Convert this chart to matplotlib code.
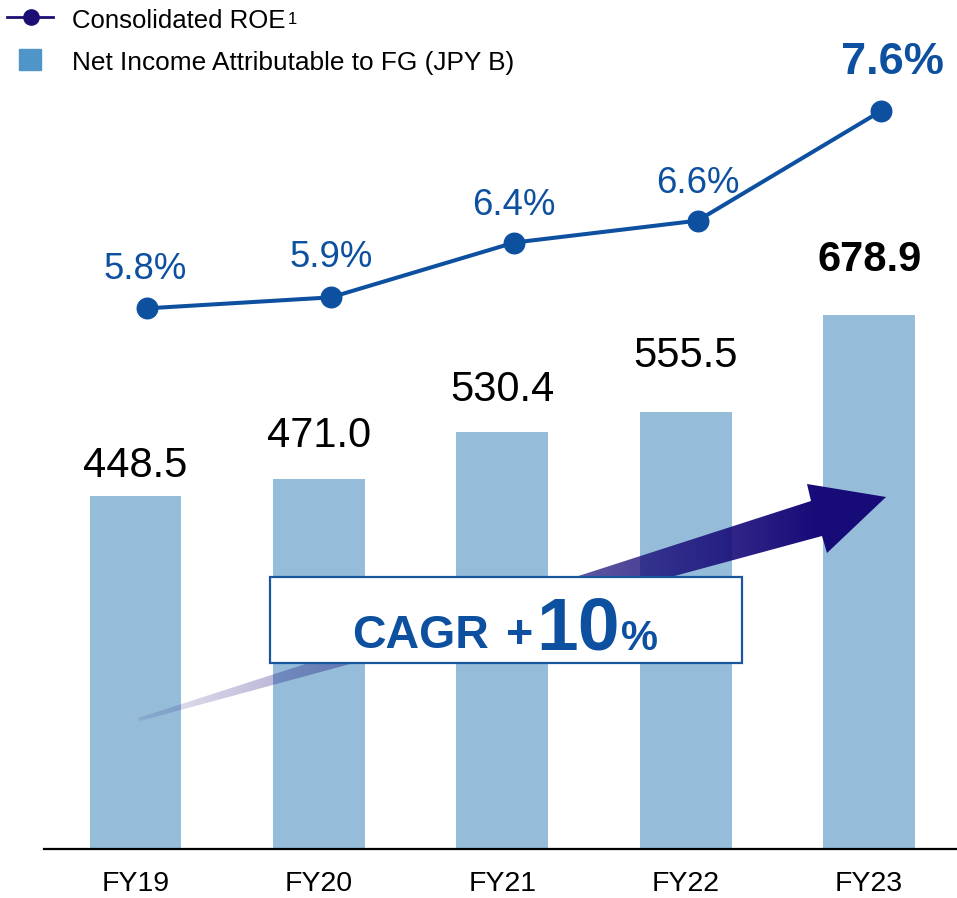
import numpy as np
import matplotlib
matplotlib.use("Agg")
import matplotlib.pyplot as plt
from matplotlib.patches import Polygon, Rectangle

plt.rcParams['font.family'] = ['Liberation Sans', 'DejaVu Sans']

years = ['FY19', 'FY20', 'FY21', 'FY22', 'FY23']
net_income = [448.5, 471.0, 530.4, 555.5, 678.9]
roe = [5.8, 5.9, 6.4, 6.6, 7.6]

BAR_COLOR = '#95bcd9'
LINE_COLOR = '#0d50a0'
NAVY = '#170b78'

W, H = 957, 898
fig = plt.figure(figsize=(W / 100, H / 100), dpi=100)
ax = fig.add_axes([44 / W, 49 / H, 913 / W, 849 / H])

x = np.arange(len(years))
ax.bar(x, net_income, width=0.5, color=BAR_COLOR)
ax.set_xlim(-0.499, 4.479)
ax.set_ylim(0, 849 * 1.2715)
ax.set_xticks(x, years)
ax.tick_params(axis='x', length=0, labelsize=20.5, pad=16)
ax.set_yticks([])
for s in ['top', 'left', 'right']:
    ax.spines[s].set_visible(False)
ax.spines['bottom'].set_linewidth(1.6)

# label gaps above bars (px)
bar_gap = [19, 32, 31, 45, 44]
for i, v in enumerate(net_income):
    last = i == len(net_income) - 1
    ax.annotate(f"{v:.1f}", (x[i], v), xytext=(0, bar_gap[i] * 0.72),
                textcoords='offset points', ha='center', va='baseline',
                fontsize=30, fontweight='bold' if last else 'normal', color='black')

ax2 = ax.twinx()
ax2.set_ylim(0.867, 8.613)
ax2.set_yticks([])
for s in ax2.spines.values():
    s.set_visible(False)
xl = x + 0.065
ax2.plot(xl, roe, color=LINE_COLOR, lw=2.9, marker='o', ms=14.8, zorder=3)

roe_gap = [29, 30, 28, 28, 37]
roe_dx = [-2, 0, 0, 0, 11]
for i, v in enumerate(roe):
    last = i == len(roe) - 1
    ax2.annotate(f"{v:.1f}%", (xl[i], v), xytext=(roe_dx[i] * 0.72, roe_gap[i] * 0.72),
                 textcoords='offset points', ha='center', va='baseline',
                 fontsize=32.5 if last else 26.3, fontweight='bold' if last else 'normal',
                 color=LINE_COLOR)

# overlay in pixel coords for arrow, CAGR box and legend
ov = fig.add_axes([0, 0, 1, 1])
ov.set_axis_off()
ov.patch.set_alpha(0)

pts = [(138, 718), (811, 501), (807, 484), (886, 497), (827, 553), (822, 536), (140, 721)]
arrow = Polygon(pts, closed=True, facecolor='none', edgecolor='none')
ov.add_patch(arrow)
n = 256
t = np.linspace(0, 1, n)
img = np.zeros((1, n, 4))
img[..., :3] = matplotlib.colors.to_rgb(NAVY)
img[..., 3] = 0.1 + 0.9 * np.clip(t / 0.9, 0, 1)
im = ov.imshow(img, extent=(136, 888, 724, 482), aspect='auto',
               interpolation='bilinear', zorder=2)
im.set_clip_path(arrow)

ov.add_patch(Rectangle((270, 577), 472, 86, facecolor='white',
                       edgecolor='#1a56a0', lw=1.6, zorder=3))
ov.text(352, 648, 'CAGR', fontsize=33.5, fontweight='bold', color=LINE_COLOR,
        ha='left', va='baseline', zorder=4)
ov.text(506, 648, '+', fontsize=33.5, fontweight='bold', color=LINE_COLOR,
        ha='left', va='baseline', zorder=4)
ov.text(536, 650, '10', fontsize=54, fontweight='bold', color=LINE_COLOR,
        ha='left', va='baseline', zorder=4)
ov.text(621, 650, '%', fontsize=30, fontweight='bold', color=LINE_COLOR,
        ha='left', va='baseline', zorder=4)

# legend
ov.plot([7, 53], [17, 17], color='#1c0f74', lw=2)
ov.plot([31], [17], 'o', color='#1c0f74', ms=11)
ov.add_patch(Rectangle((19, 49), 22, 21, color='#4f95c9'))
ov.text(72, 28, 'Consolidated ROE', fontsize=18.5, va='baseline', ha='left')
ov.text(288, 24, '1', fontsize=12, va='baseline', ha='left')
ov.text(72, 70, 'Net Income Attributable to FG (JPY B)', fontsize=18.9,
        va='baseline', ha='left')

ov.set_xlim(0, W)
ov.set_ylim(H, 0)

fig.savefig('out.png', dpi=100)
